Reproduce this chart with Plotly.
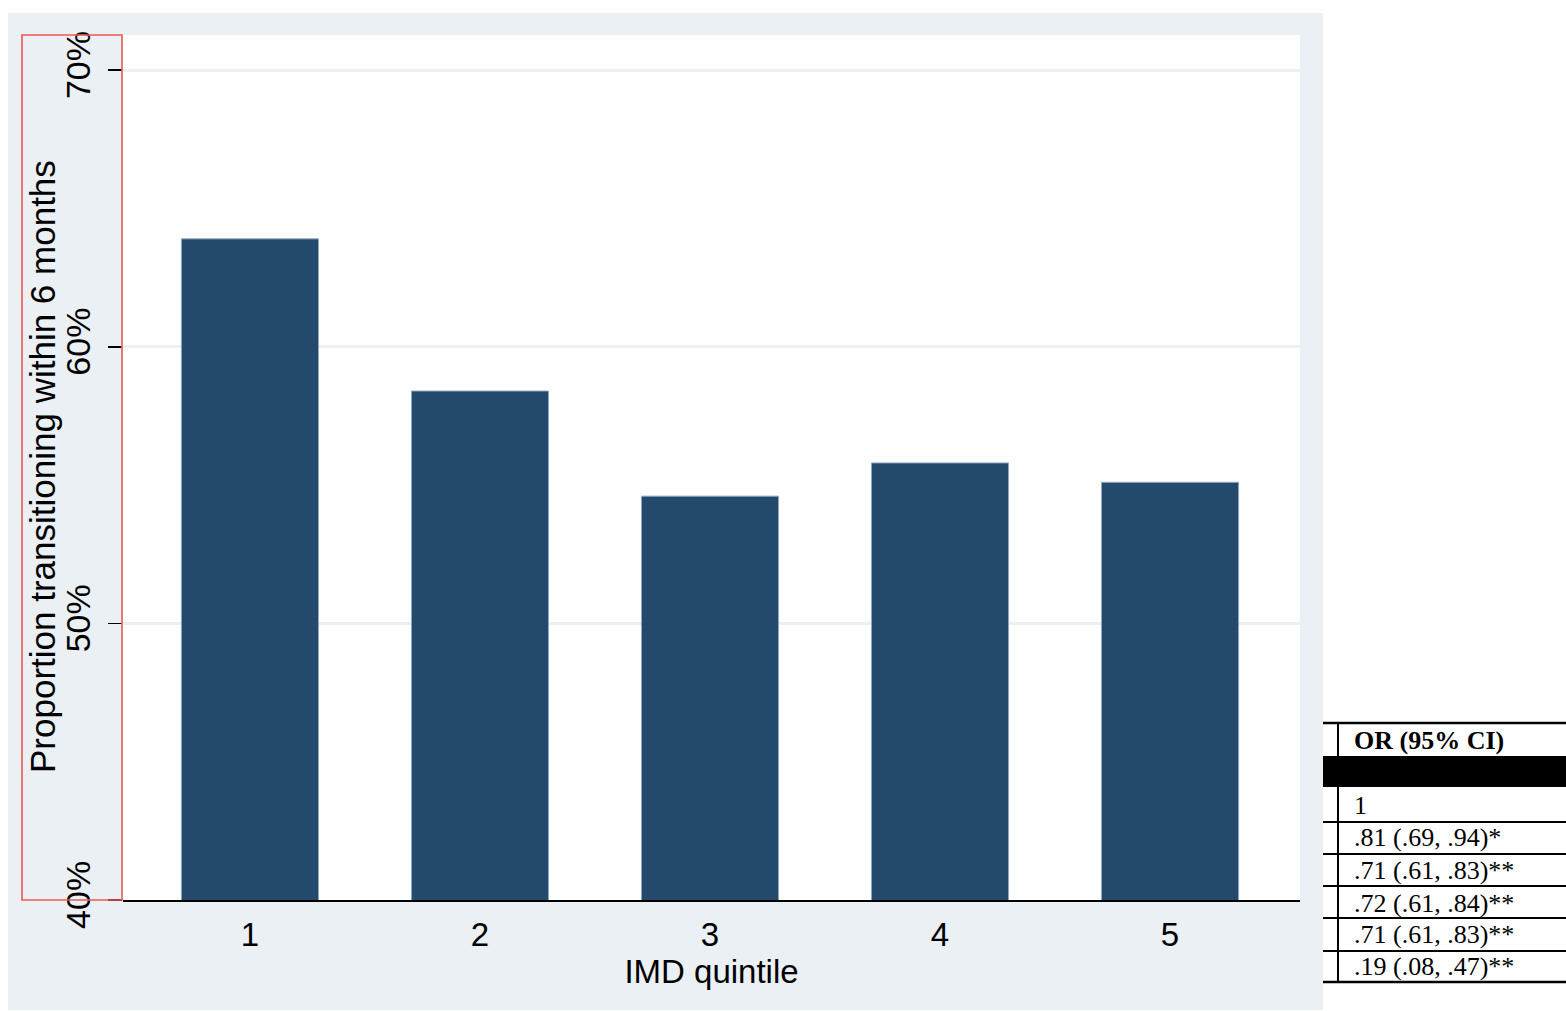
import plotly.graph_objects as go

# ---- data ----
quintiles = [1, 2, 3, 4, 5]
quintile_labels = ["1", "2", "3", "4", "5"]
proportions = [63.9, 58.4, 54.6, 55.8, 55.1]
y_tickvals = [40, 50, 60, 70]
y_ticktext = ["40%", "50%", "60%", "70%"]
y_title = "Proportion transitioning within 6 months"
x_title = "IMD quintile"
or_header = "OR (95% CI)"
or_rows = ["1", ".81 (.69, .94)*", ".71 (.61, .83)**", ".72 (.61, .84)**",
           ".71 (.61, .83)**", ".19 (.08, .47)**"]

# ---- layout geometry (screen pixels; body margin removed via post_script) ----
W, H = 1566, 1011
L, R, T, B = 123, 1300, 35, 900


def px(x):
    return (x - L) / (R - L)


def py(y):
    return (B - y) / (B - T)


BG = "#eaf0f3"
BAR = "#234a6d"
FONT = "Liberation Sans, Arial, sans-serif"
SERIF = "Liberation Serif, DejaVu Serif, serif"

fig = go.Figure()
fig.add_trace(go.Bar(
    x=quintiles, y=proportions, width=0.596,
    marker=dict(color=BAR, line=dict(color="#93a8bd", width=1)),
    hoverinfo="skip",
))

shapes = [
    dict(type="rect", xref="paper", yref="paper", layer="below",
         x0=px(8), x1=px(1323), y0=py(1010), y1=py(13),
         fillcolor=BG, line=dict(width=0)),
    dict(type="rect", xref="paper", yref="paper", layer="below",
         x0=0, x1=1, y0=0, y1=1, fillcolor="white", line=dict(width=0)),
    dict(type="rect", xref="paper", yref="paper", layer="above",
         x0=px(22), x1=px(122), y0=py(900), y1=py(35),
         fillcolor="rgba(0,0,0,0)", line=dict(color="#ee5a50", width=1.6)),
]

# ---- table ----
tx0, tx1 = px(1323), px(1570)
shapes.append(dict(type="rect", xref="paper", yref="paper", layer="above",
                   x0=tx0, x1=tx1, y0=py(982), y1=py(723),
                   fillcolor="white", line=dict(width=0)))
shapes.append(dict(type="rect", xref="paper", yref="paper", layer="above",
                   x0=tx0, x1=tx1, y0=py(787), y1=py(756),
                   fillcolor="black", line=dict(width=0)))
for yy, w in [(723, 2.5), (822, 2), (854, 2), (886, 2), (918, 2), (951, 2), (982, 2.5)]:
    shapes.append(dict(type="line", xref="paper", yref="paper", layer="above",
                       x0=tx0, x1=tx1, y0=py(yy), y1=py(yy),
                       line=dict(color="black", width=w)))
shapes.append(dict(type="line", xref="paper", yref="paper", layer="above",
                   x0=px(1338), x1=px(1338), y0=py(982), y1=py(723),
                   line=dict(color="black", width=2)))

annotations = [
    dict(text=y_title, xref="paper", yref="paper", x=px(42), y=py(467),
         xanchor="center", yanchor="middle", textangle=-90, showarrow=False,
         font=dict(family=FONT, size=35, color="black")),
    dict(text="<b>" + or_header + "</b>", xref="paper", yref="paper",
         x=px(1352), y=py(740), xanchor="left", yanchor="middle",
         showarrow=False, font=dict(family=SERIF, size=26, color="black")),
]
row_centers = [805, 837, 870, 903, 935, 967]
for txt, yc in zip(or_rows, row_centers):
    annotations.append(dict(text=txt, xref="paper", yref="paper",
                            x=px(1352), y=py(yc), xanchor="left", yanchor="middle",
                            showarrow=False, font=dict(family=SERIF, size=26, color="black")))

fig.update_layout(
    width=W, height=H,
    margin=dict(l=L, r=W - R, t=T, b=H - B, pad=0),
    paper_bgcolor="white",
    plot_bgcolor="rgba(0,0,0,0)",
    showlegend=False,
    font=dict(family=FONT, size=33, color="black"),
    shapes=shapes,
    annotations=annotations,
    bargap=0,
)
fig.update_xaxes(
    range=[0.448, 5.565],
    tickvals=quintiles, ticktext=quintile_labels,
    ticks="outside", ticklen=4, tickcolor="rgba(0,0,0,0)",
    showline=True, linecolor="black", linewidth=2,
    showgrid=False, zeroline=False,
    title=dict(text=x_title, standoff=0, font=dict(size=33)),
    tickfont=dict(size=33),
)
fig.update_yaxes(
    range=[40, 71.27],
    tickvals=y_tickvals, ticktext=y_ticktext,
    tickangle=-90,
    ticks="outside", ticklen=14, tickwidth=1.5, tickcolor="black",
    ticklabelstandoff=4,
    showline=False, zeroline=False,
    showgrid=True, gridcolor=BG, gridwidth=3,
    tickfont=dict(size=34),
)

fig.write_html("out.html",
               config={"displayModeBar": False, "staticPlot": True},
               post_script="document.body.style.margin='0px';document.body.style.overflow='hidden';")
